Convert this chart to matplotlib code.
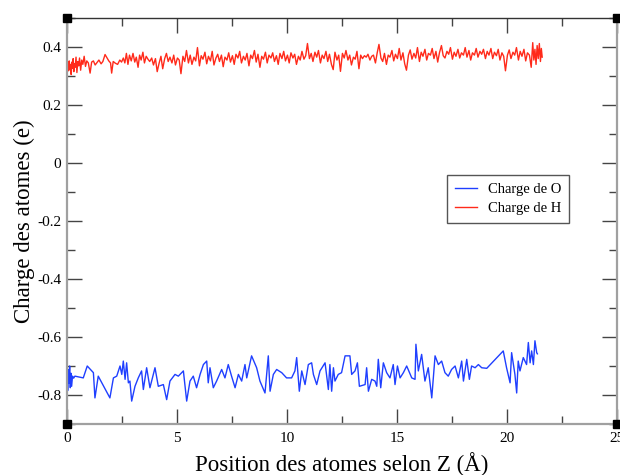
#!/usr/bin/env python3
"""Charge des atomes O et H le long de Z (style Grace)."""

import matplotlib

matplotlib.use("Agg")
import matplotlib.pyplot as plt
from matplotlib.ticker import MultipleLocator


# Charge de H : (position Z en Angstrom, charge en e)
H_Z = [
    0.00, 0.04, 0.07, 0.10, 0.13, 0.16, 0.19, 0.22, 0.25, 0.28, 0.31, 0.34, 0.37,
    0.41, 0.45, 0.49, 0.53, 0.57, 0.62, 0.67, 0.72, 0.78, 0.84, 0.90, 0.97, 1.05,
    1.12, 1.20, 1.28, 1.36, 1.45, 1.55, 1.63, 1.73, 1.82, 1.90, 1.98, 2.03, 2.10,
    2.20, 2.30, 2.40, 2.48, 2.56, 2.63, 2.70, 2.77, 2.84, 2.92, 3.00, 3.08, 3.15,
    3.23, 3.30, 3.37, 3.45, 3.52, 3.60, 3.68, 3.76, 3.85, 3.93, 4.02, 4.10, 4.18,
    4.27, 4.35, 4.44, 4.52, 4.60, 4.68, 4.77, 4.85, 4.93, 5.02, 5.10, 5.18, 5.27,
    5.35, 5.43, 5.52, 5.60, 5.68, 5.77, 5.85, 5.93, 6.02, 6.10, 6.18, 6.27, 6.35,
    6.43, 6.52, 6.60, 6.68, 6.77, 6.85, 6.93, 7.02, 7.10, 7.18, 7.27, 7.35, 7.43,
    7.52, 7.60, 7.68, 7.77, 7.85, 7.93, 8.02, 8.10, 8.18, 8.27, 8.35, 8.43, 8.52,
    8.60, 8.68, 8.77, 8.85, 8.93, 9.02, 9.10, 9.18, 9.27, 9.35, 9.43, 9.52, 9.60,
    9.68, 9.77, 9.85, 9.93, 10.02, 10.10, 10.18, 10.27, 10.35, 10.43, 10.52, 10.60,
    10.68, 10.77, 10.85, 10.93, 11.02, 11.10, 11.18, 11.27, 11.35, 11.43, 11.52,
    11.60, 11.68, 11.77, 11.85, 11.93, 12.02, 12.10, 12.18, 12.27, 12.35, 12.43,
    12.52, 12.60, 12.68, 12.77, 12.85, 12.93, 13.02, 13.10, 13.18, 13.27, 13.35,
    13.43, 13.52, 13.60, 13.68, 13.77, 13.85, 13.93, 14.02, 14.10, 14.18, 14.27,
    14.35, 14.43, 14.52, 14.60, 14.68, 14.77, 14.85, 14.93, 15.02, 15.10, 15.18,
    15.27, 15.35, 15.43, 15.52, 15.60, 15.68, 15.77, 15.85, 15.93, 16.02, 16.10,
    16.18, 16.27, 16.35, 16.43, 16.52, 16.60, 16.68, 16.77, 16.85, 16.93, 17.02,
    17.10, 17.18, 17.27, 17.35, 17.43, 17.52, 17.60, 17.68, 17.77, 17.85, 17.93,
    18.02, 18.10, 18.18, 18.27, 18.35, 18.43, 18.52, 18.60, 18.68, 18.77, 18.85,
    18.93, 19.02, 19.10, 19.18, 19.27, 19.35, 19.43, 19.52, 19.60, 19.68, 19.77,
    19.85, 19.93, 20.02, 20.10, 20.18, 20.27, 20.35, 20.43, 20.52, 20.60, 20.68,
    20.77, 20.85, 20.93, 21.02, 21.10, 21.17, 21.22, 21.27, 21.32, 21.37, 21.42,
    21.47, 21.52, 21.56, 21.60,
]
H_CHARGE = [
    0.330, 0.345, 0.318, 0.352, 0.322, 0.340, 0.305, 0.348, 0.326, 0.360, 0.315, 0.342, 0.330,
    0.365, 0.312, 0.350, 0.335, 0.362, 0.320, 0.355, 0.340, 0.368, 0.333, 0.352, 0.345, 0.310,
    0.348, 0.352, 0.338, 0.346, 0.355, 0.342, 0.350, 0.374, 0.362, 0.352, 0.345, 0.310, 0.350,
    0.344, 0.340, 0.355, 0.348, 0.362, 0.345, 0.378, 0.340, 0.372, 0.352, 0.378, 0.348, 0.365,
    0.330, 0.372, 0.355, 0.382, 0.345, 0.368, 0.358, 0.350, 0.362, 0.338, 0.360, 0.315, 0.342,
    0.368, 0.325, 0.360, 0.378, 0.350, 0.365, 0.345, 0.372, 0.338, 0.362, 0.355, 0.308, 0.368,
    0.350, 0.388, 0.345, 0.372, 0.340, 0.365, 0.352, 0.398, 0.335, 0.370, 0.358, 0.382, 0.342,
    0.368, 0.352, 0.385, 0.338, 0.362, 0.375, 0.350, 0.372, 0.332, 0.365, 0.355, 0.380, 0.348,
    0.370, 0.340, 0.375, 0.362, 0.385, 0.345, 0.368, 0.355, 0.378, 0.335, 0.372, 0.360, 0.388,
    0.348, 0.375, 0.330, 0.368, 0.358, 0.382, 0.345, 0.372, 0.362, 0.380, 0.350, 0.370, 0.340,
    0.378, 0.360, 0.385, 0.352, 0.372, 0.345, 0.380, 0.362, 0.375, 0.340, 0.368, 0.355,
    0.385, 0.358, 0.370, 0.412, 0.360, 0.378, 0.350, 0.382, 0.365, 0.388, 0.345,
    0.372, 0.360, 0.385, 0.350, 0.375, 0.340, 0.322, 0.382, 0.355, 0.372, 0.316,
    0.378, 0.362, 0.388, 0.355, 0.372, 0.338, 0.365, 0.358, 0.385, 0.325, 0.372,
    0.360, 0.370, 0.365, 0.375, 0.355, 0.368, 0.372, 0.345, 0.380, 0.409, 0.362,
    0.350, 0.378, 0.340, 0.372, 0.365, 0.388, 0.352, 0.375, 0.360, 0.395, 0.355,
    0.380, 0.342, 0.320, 0.372, 0.390, 0.358, 0.378, 0.362, 0.398, 0.350, 0.382,
    0.368, 0.392, 0.355, 0.378, 0.372, 0.395, 0.360, 0.385, 0.348, 0.380, 0.405,
    0.370, 0.362, 0.385, 0.375, 0.398, 0.358, 0.382, 0.368, 0.392, 0.362, 0.380,
    0.372, 0.398, 0.365, 0.388, 0.355, 0.380, 0.372, 0.395, 0.365, 0.385, 0.375,
    0.392, 0.360, 0.385, 0.372, 0.395, 0.360, 0.382, 0.370, 0.392, 0.355, 0.380,
    0.368, 0.318, 0.372, 0.390, 0.360, 0.382, 0.372, 0.398, 0.355, 0.385, 0.368,
    0.392, 0.352, 0.380, 0.372, 0.330, 0.415, 0.355, 0.392, 0.340, 0.405, 0.360,
    0.412, 0.350, 0.395, 0.365,
]

# Charge de O : (position Z en Angstrom, charge en e)
O_Z = [
    0.00, 0.03, 0.06, 0.09, 0.12, 0.15, 0.18, 0.21, 0.25, 0.30, 0.36, 0.74, 0.92,
    1.20, 1.27, 1.42, 1.95, 2.11, 2.26, 2.41, 2.49, 2.56, 2.64, 2.71, 2.79, 2.86,
    2.94, 3.09, 3.24, 3.39, 3.47, 3.62, 3.77, 4.00, 4.15, 4.38, 4.53, 4.68, 4.91,
    5.06, 5.29, 5.44, 5.59, 5.74, 5.89, 6.05, 6.20, 6.35, 6.42, 6.50, 6.65, 6.80,
    7.03, 7.18, 7.33, 7.48, 7.64, 7.79, 7.94, 8.09, 8.17, 8.39, 8.62, 8.77, 9.00,
    9.15, 9.23, 9.38, 9.53, 9.76, 9.98, 10.21, 10.36, 10.44, 10.56, 10.67, 10.82,
    10.97, 11.12, 11.20, 11.35, 11.50, 11.73, 11.88, 11.95, 12.03, 12.11, 12.18,
    12.33, 12.48, 12.64, 12.86, 12.94, 13.09, 13.20, 13.29, 13.55, 13.62, 13.70,
    13.85, 14.00, 14.08, 14.15, 14.26, 14.38, 14.53, 14.68, 14.83, 14.91, 15.02,
    15.14, 15.29, 15.44, 15.67, 15.82, 15.86, 15.97, 16.12, 16.27, 16.42, 16.58,
    16.73, 16.88, 17.03, 17.18, 17.33, 17.48, 17.64, 17.79, 17.94, 18.02, 18.17,
    18.29, 18.39, 18.55, 18.70, 18.85, 19.08, 19.83, 19.98, 20.14, 20.21, 20.36,
    20.44, 20.51, 20.59, 20.74, 20.89, 20.97, 21.05, 21.12, 21.20, 21.27, 21.35,
    21.38,
]
O_CHARGE = [
    -0.678, -0.785, -0.712, -0.760, -0.700, -0.775, -0.725, -0.770, -0.735, -0.742, -0.735, -0.741, -0.700,
    -0.723, -0.810, -0.735, -0.810, -0.741, -0.735, -0.700, -0.729, -0.683, -0.746, -0.689, -0.758, -0.752,
    -0.821, -0.770, -0.741, -0.717, -0.781, -0.706, -0.775, -0.706, -0.770, -0.764, -0.816, -0.752, -0.729,
    -0.735, -0.717, -0.821, -0.752, -0.735, -0.775, -0.729, -0.695, -0.683, -0.758, -0.706, -0.775, -0.752,
    -0.712, -0.741, -0.695, -0.735, -0.775, -0.729, -0.752, -0.695, -0.741, -0.665, -0.706, -0.752, -0.793,
    -0.665, -0.787, -0.729, -0.712, -0.723, -0.741, -0.741, -0.717, -0.671, -0.787, -0.717, -0.764,
    -0.695, -0.689, -0.729, -0.764, -0.717, -0.689, -0.781, -0.695, -0.787, -0.706, -0.752,
    -0.729, -0.723, -0.665, -0.665, -0.729, -0.717, -0.689, -0.770, -0.764, -0.706, -0.787,
    -0.746, -0.752, -0.770, -0.677, -0.775, -0.689, -0.723, -0.741, -0.695, -0.764, -0.700,
    -0.741, -0.723, -0.700, -0.741, -0.746, -0.625, -0.717, -0.660, -0.752, -0.706, -0.810,
    -0.665, -0.695, -0.683, -0.723, -0.735, -0.712, -0.700, -0.741, -0.683, -0.752, -0.677,
    -0.746, -0.700, -0.706, -0.695, -0.706, -0.708, -0.648, -0.706, -0.758, -0.654, -0.729,
    -0.793, -0.683, -0.717, -0.671, -0.695, -0.619, -0.689, -0.648, -0.695, -0.613, -0.654,
    -0.658,
]

X_TICKS = [0, 5, 10, 15, 20, 25]
Y_TICKS = [-0.8, -0.6, -0.4, -0.2, 0, 0.2, 0.4]
Y_TICK_LABELS = ["-0.8", "-0.6", "-0.4", "-0.2", "0", "0.2", "0.4"]

plt.rcParams.update(
    {
        "font.family": ["Liberation Serif", "DejaVu Serif"],
        "font.size": 10.5,
    }
)


def main() -> None:
    fig = plt.figure(figsize=(6.2, 4.75), dpi=100)
    ax = fig.add_axes([67 / 620, 51 / 475, 550 / 620, 406 / 475])

    ax.plot(O_Z, O_CHARGE, color="#1f3fff", linewidth=1.0, label="Charge de O")
    ax.plot(H_Z, H_CHARGE, color="#ff2a1a", linewidth=1.0, label="Charge de H")

    ax.set_xlim(0, 25)
    ax.set_ylim(-0.9, 0.5)
    ax.set_xticks(X_TICKS)
    ax.set_yticks(Y_TICKS)
    ax.set_yticklabels(Y_TICK_LABELS)
    ax.xaxis.set_minor_locator(MultipleLocator(2.5))
    ax.yaxis.set_minor_locator(MultipleLocator(0.1))
    ax.tick_params(which="both", direction="in", top=True, right=True,
                   color="#444444", width=1.0, labelsize=11)
    ax.tick_params(axis="x", pad=6)
    ax.tick_params(axis="y", pad=4)
    ax.tick_params(which="major", length=11)
    ax.tick_params(which="minor", length=6)

    for side in ("left", "bottom", "right"):
        ax.spines[side].set_color("#a0a0a0")
        ax.spines[side].set_linewidth(1.6)
    ax.spines["top"].set_color("#333333")
    ax.spines["top"].set_linewidth(1.0)

    # petits carrés noirs aux coins, comme dans Grace
    ax.plot([0, 1, 0, 1], [0, 0, 1, 1], "s", color="black", markersize=5.5,
            transform=ax.transAxes, clip_on=False, zorder=5)

    ax.set_xlabel("Position des atomes selon Z (Å)", fontsize=16.5, labelpad=5)
    ax.set_ylabel("Charge des atomes (e)", fontsize=16.5, labelpad=2)

    leg = ax.legend(loc="upper left", bbox_to_anchor=(0.691, 0.613), fontsize=10.5,
                    fancybox=False, framealpha=1.0, edgecolor="#555555",
                    borderaxespad=0.0, handlelength=1.5, handletextpad=0.75,
                    borderpad=0.55, labelspacing=0.4)
    leg.get_frame().set_linewidth(1.0)

    fig.savefig("out.png", dpi=100)
    plt.close(fig)


if __name__ == "__main__":
    main()
